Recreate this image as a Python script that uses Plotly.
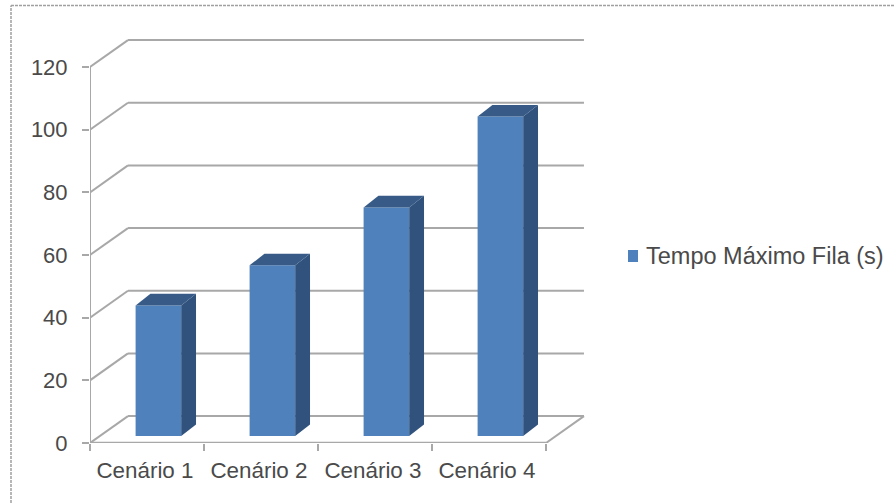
import plotly.graph_objects as go

# Chart data
categories = ["Cenário 1", "Cenário 2", "Cenário 3", "Cenário 4"]
tempo_maximo = [41.7, 54.5, 73, 102]
y_ticks = [0, 20, 40, 60, 80, 100, 120]
series_name = "Tempo Máximo Fila (s)"

# Colours
FRONT = "#4f81bd"
SIDE = "#30527c"
TOP = "#375a87"
GRID = "#a8a8a8"
TEXT = "#4a4a4a"

# Oblique projection, in axis units
WALL_DX, WALL_DY = 0.333, 8.6      # offset of the back wall
FLOOR_DY = 2.2                     # bar foot above the front edge
BAR_DX, BAR_DY = 0.13, 3.7         # visible bar depth
BAR_WIDTH = 0.40
BAR_OFFSET = 0.60

n = len(categories)
centers = [i + BAR_OFFSET for i in range(n)]
label_pos = [i + 0.482 for i in range(n)]
x_max = 4.4
y_max = 130.0

fig = go.Figure()

# Front faces of the columns
fig.add_trace(go.Bar(
    x=centers, y=tempo_maximo, base=[FLOOR_DY] * n, width=BAR_WIDTH,
    marker=dict(color=FRONT, line=dict(width=0)), showlegend=False,
    name=series_name,
))

# Right and top faces of the columns
for c, v in zip(centers, tempo_maximo):
    left, right = c - BAR_WIDTH / 2, c + BAR_WIDTH / 2
    top = v + FLOOR_DY
    fig.add_trace(go.Scatter(
        x=[right, right + BAR_DX, right + BAR_DX, right, right],
        y=[FLOOR_DY, FLOOR_DY + BAR_DY, top + BAR_DY, top, FLOOR_DY],
        mode="lines", fill="toself", fillcolor=SIDE, line=dict(width=0),
        showlegend=False, hoverinfo="skip",
    ))
    fig.add_trace(go.Scatter(
        x=[left, right, right + BAR_DX, left + BAR_DX, left],
        y=[top, top, top + BAR_DY, top + BAR_DY, top],
        mode="lines", fill="toself", fillcolor=TOP, line=dict(width=0),
        showlegend=False, hoverinfo="skip",
    ))

shapes = []
wall_right = n + WALL_DX

# Side wall diagonals and back wall gridlines
for t in y_ticks:
    shapes.append(dict(type="line", xref="x", yref="y", layer="below",
                       x0=0, y0=t, x1=WALL_DX, y1=t + WALL_DY,
                       line=dict(color=GRID, width=2)))
    shapes.append(dict(type="line", xref="x", yref="y", layer="below",
                       x0=WALL_DX, y0=t + WALL_DY, x1=wall_right, y1=t + WALL_DY,
                       line=dict(color=GRID, width=2)))

# Value axis, front floor edge and right floor edge
shapes.append(dict(type="line", xref="x", yref="y", layer="below",
                   x0=0, y0=0, x1=0, y1=y_ticks[-1],
                   line=dict(color=GRID, width=2)))
shapes.append(dict(type="line", xref="x", yref="y", layer="below",
                   x0=0, y0=0, x1=n, y1=0,
                   line=dict(color=GRID, width=2.5)))
shapes.append(dict(type="line", xref="x", yref="y", layer="below",
                   x0=n, y0=0, x1=wall_right, y1=WALL_DY,
                   line=dict(color=GRID, width=2)))

# Chart frame: open at the bottom and right, running off the page
shapes.append(dict(type="line", xref="paper", yref="paper", layer="below",
                   x0=11 / 894, x1=11 / 894, y0=0, y1=(503 - 5.5) / 503,
                   line=dict(color="#a0a0a0", width=1.5, dash="3px,1px")))
shapes.append(dict(type="line", xref="paper", yref="paper", layer="below",
                   x0=11 / 894, x1=1, y0=(503 - 5.5) / 503, y1=(503 - 5.5) / 503,
                   line=dict(color="#a0a0a0", width=1.5, dash="3px,1px")))

# Legend key
shapes.append(dict(type="rect", xref="paper", yref="paper",
                   x0=628 / 894, x1=638 / 894,
                   y0=(503 - 262) / 503, y1=(503 - 250) / 503,
                   fillcolor=FRONT, line=dict(width=0)))

fig.update_layout(
    width=894, height=503,
    margin=dict(l=0, r=0, t=0, b=0, autoexpand=False),
    paper_bgcolor="white", plot_bgcolor="white",
    font=dict(family="Liberation Sans, Arial, sans-serif", size=22, color=TEXT),
    showlegend=False,
    shapes=shapes,
    annotations=[dict(
        text=series_name, xref="paper", yref="paper", showarrow=False,
        x=644 / 894, y=(503 - 256) / 503, xanchor="left", yanchor="middle",
        font=dict(size=23.5, color=TEXT),
    )],
    xaxis=dict(
        domain=[90 / 894, (90 + x_max * 114) / 894],
        range=[0, x_max], showgrid=False, zeroline=False, showline=False,
        automargin=False,
        tickmode="array", tickvals=label_pos, ticktext=categories,
        ticks="", tickfont=dict(size=22.4), ticklabelstandoff=12,
        minor=dict(tickmode="array", tickvals=list(range(n + 1)),
                   ticks="outside", ticklen=7, tickwidth=2, tickcolor=GRID),
    ),
    yaxis=dict(
        domain=[(503 - 443) / 503, (503 - 443 + y_max * 3.133) / 503],
        range=[0, y_max], showgrid=False, zeroline=False, showline=False,
        automargin=False,
        tickmode="array", tickvals=y_ticks,
        ticks="outside", ticklen=7, tickwidth=2, tickcolor=GRID,
        tickfont=dict(size=22), ticklabelstandoff=10,
    ),
)

fig.write_html("out.html")
